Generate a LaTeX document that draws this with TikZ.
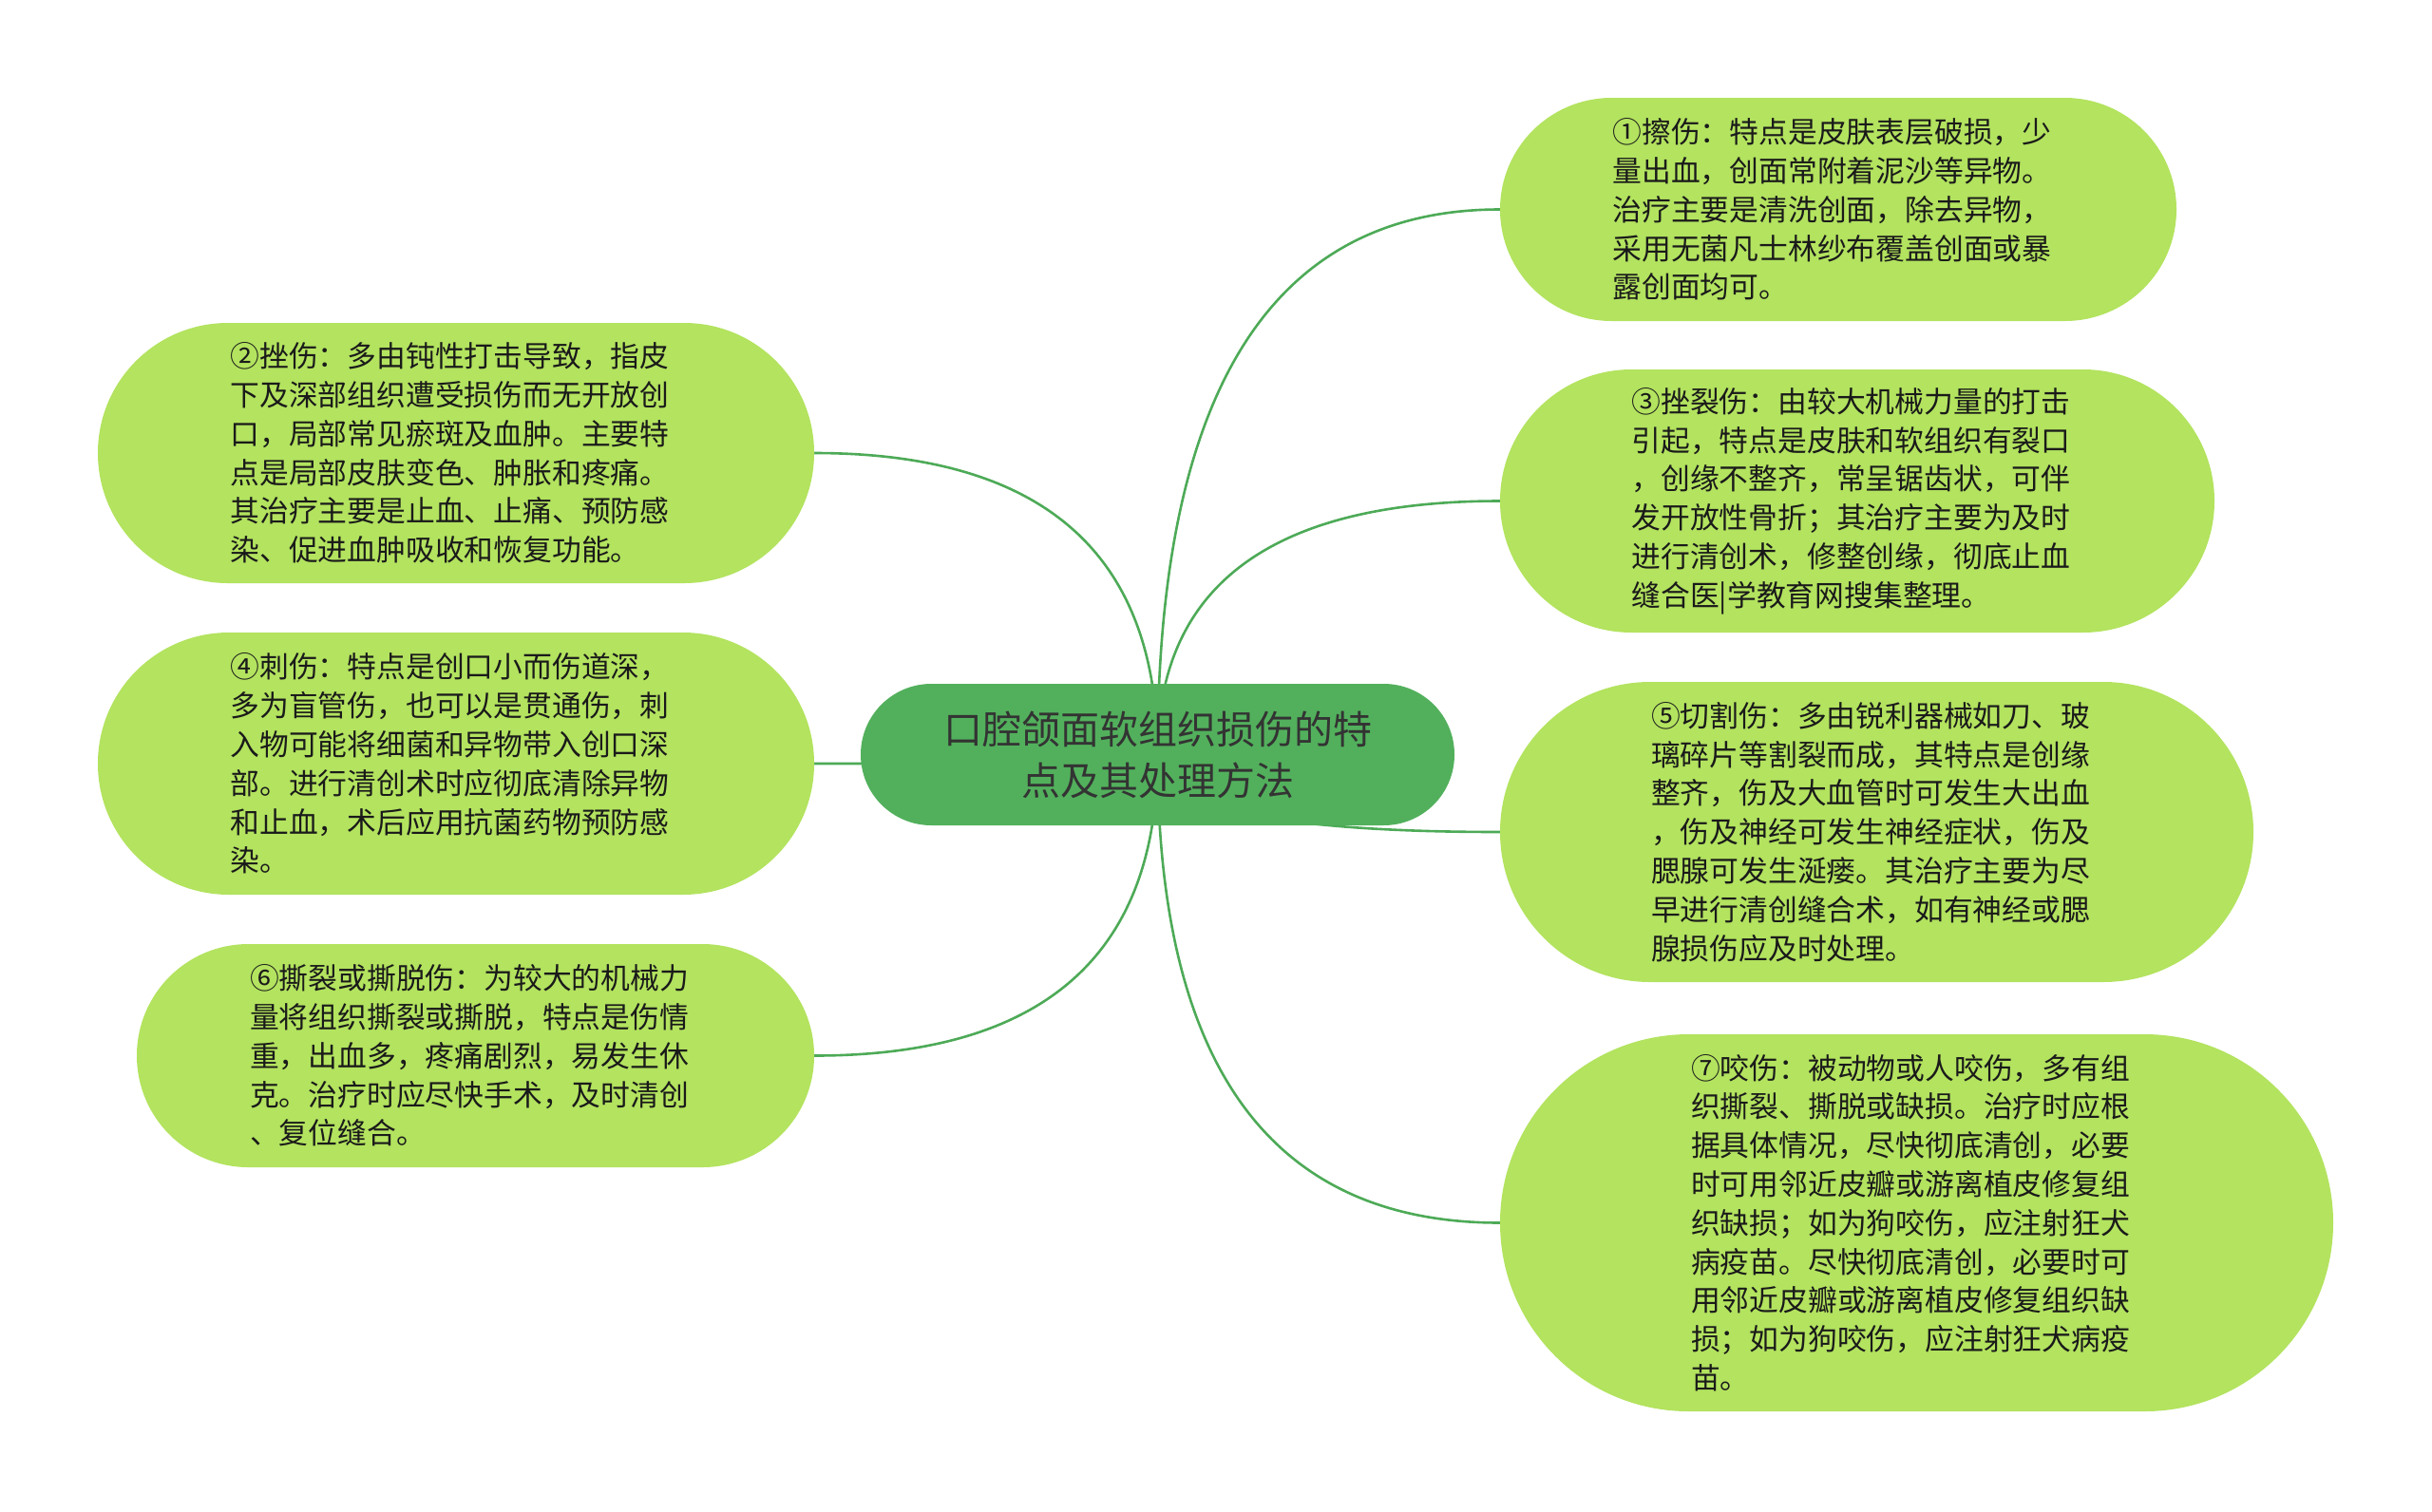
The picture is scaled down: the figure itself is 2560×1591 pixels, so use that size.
\documentclass[tikz,border=0pt]{standalone}
\usepackage{fontspec}
\setmainfont{Noto Sans CJK SC}
\usetikzlibrary{calc,backgrounds}
\definecolor{leaffill}{HTML}{B3E35F}
\definecolor{rootfill}{HTML}{52B05C}
\definecolor{linkcol}{HTML}{4DAA57}
\definecolor{leaftext}{HTML}{1A1A1A}
\definecolor{roottext}{HTML}{333333}
\begin{document}
\begin{tikzpicture}[x=1pt,y=-1pt,
  leaf/.style={rectangle, fill=leaffill, inner sep=0pt, align=left, text=leaftext,
    text width=475pt, font=\fontsize{30.8}{40.8}\selectfont},
  root/.style={rectangle, fill=rootfill, inner sep=0pt, align=center, text=roottext,
    font=\fontsize{41}{54}\selectfont},
  link/.style={draw=linkcol, line width=2.6pt}]
\useasboundingbox (0,0) rectangle (2560,1591);

\node[root, minimum width=625pt, minimum height=149pt, rounded corners=74.4pt] (c) at (1218.5,794.5)
  {口腔颌面软组织损伤的特\\点及其处理方法};

\node[leaf, minimum width=712pt, minimum height=235pt, rounded corners=117.4pt] (r1) at (1935,220.5)
  {①擦伤：特点是皮肤表层破损，少\\量出血，创面常附着泥沙等异物。\\治疗主要是清洗创面，除去异物，\\采用无菌凡士林纱布覆盖创面或暴\\露创面均可。};

\node[leaf, minimum width=752pt, minimum height=277pt, rounded corners=138.4pt] (r2) at (1955,527.5)
  {③挫裂伤：由较大机械力量的打击\\引起，特点是皮肤和软组织有裂口\\，创缘不整齐，常呈锯齿状，可伴\\发开放性骨折；其治疗主要为及时\\进行清创术，修整创缘，彻底止血\\缝合医|学教育网搜集整理。};

\node[leaf, minimum width=793pt, minimum height=316pt, rounded corners=157.9pt] (r3) at (1975.5,876)
  {⑤切割伤：多由锐利器械如刀、玻\\璃碎片等割裂而成，其特点是创缘\\整齐，伤及大血管时可发生大出血\\，伤及神经可发生神经症状，伤及\\腮腺可发生涎瘘。其治疗主要为尽\\早进行清创缝合术，如有神经或腮\\腺损伤应及时处理。};

\node[leaf, minimum width=877pt, minimum height=397pt, rounded corners=198.4pt] (r4) at (2017.5,1287.5)
  {⑦咬伤：被动物或人咬伤，多有组\\织撕裂、撕脱或缺损。治疗时应根\\据具体情况，尽快彻底清创，必要\\时可用邻近皮瓣或游离植皮修复组\\织缺损；如为狗咬伤，应注射狂犬\\病疫苗。尽快彻底清创，必要时可\\用邻近皮瓣或游离植皮修复组织缺\\损；如为狗咬伤，应注射狂犬病疫\\苗。};

\node[leaf, minimum width=754pt, minimum height=274pt, rounded corners=136.9pt] (l1) at (480,477)
  {②挫伤：多由钝性打击导致，指皮\\下及深部组织遭受损伤而无开放创\\口，局部常见瘀斑及血肿。主要特\\点是局部皮肤变色、肿胀和疼痛。\\其治疗主要是止血、止痛、预防感\\染、促进血肿吸收和恢复功能。};

\node[leaf, minimum width=754pt, minimum height=276pt, rounded corners=137.9pt] (l2) at (480,804)
  {④刺伤：特点是创口小而伤道深，\\多为盲管伤，也可以是贯通伤，刺\\入物可能将细菌和异物带入创口深\\部。进行清创术时应彻底清除异物\\和止血，术后应用抗菌药物预防感\\染。};

\node[leaf, minimum width=713pt, minimum height=235pt, rounded corners=117.4pt] (l3) at (500.5,1111.5)
  {⑥撕裂或撕脱伤：为较大的机械力\\量将组织撕裂或撕脱，特点是伤情\\重，出血多，疼痛剧烈，易发生休\\克。治疗时应尽快手术，及时清创\\、复位缝合。};

\begin{pgfonlayer}{background}
\foreach \n/\a in {r1/west,r2/west,r3/west,r4/west,l1/east,l2/east,l3/east}
  \draw[link] (c.center) .. controls ($(c.center)!0.6667!(c.center |- \n.\a)$)
     and ($(\n.\a)!0.6667!(c.center |- \n.\a)$) .. (\n.\a);
\end{pgfonlayer}
\end{tikzpicture}
\end{document}
